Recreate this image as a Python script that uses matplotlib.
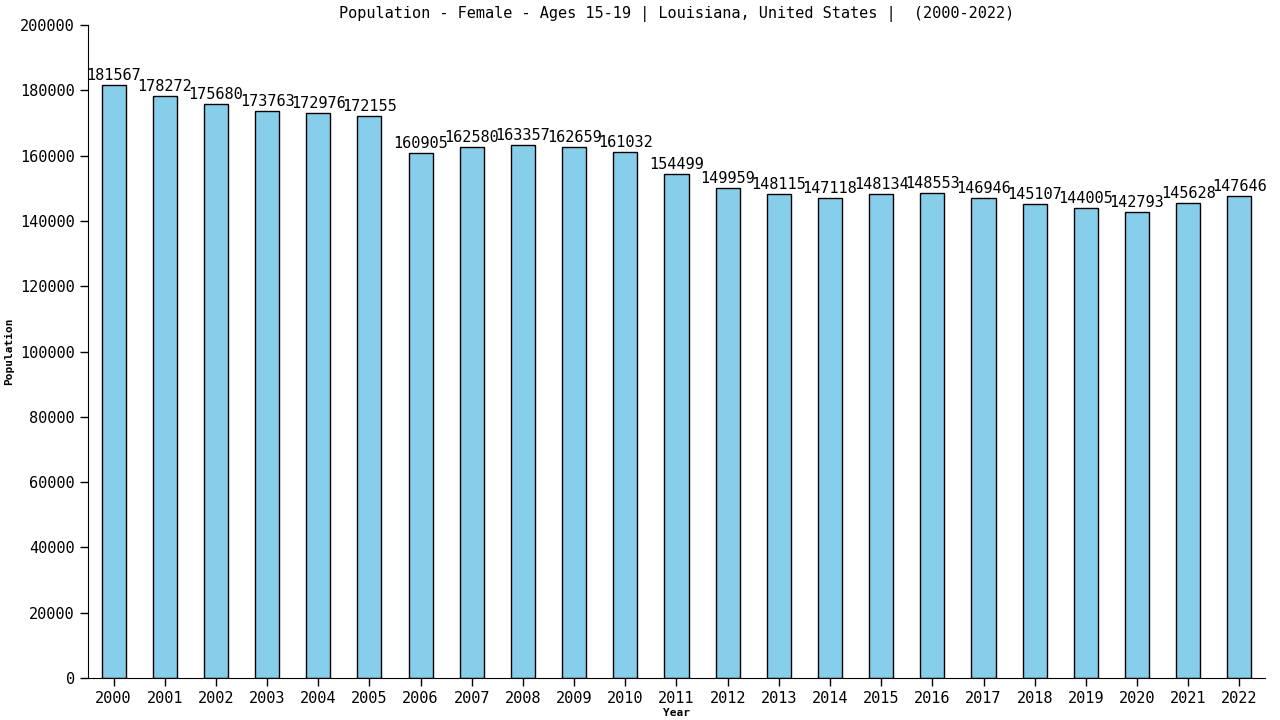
import matplotlib
matplotlib.use("Agg")
import matplotlib.pyplot as plt

years = [str(y) for y in range(2000, 2023)]
population = [181567, 178272, 175680, 173763, 172976, 172155, 160905, 162580,
              163357, 162659, 161032, 154499, 149959, 148115, 147118, 148134,
              148553, 146946, 145107, 144005, 142793, 145628, 147646]

plt.rcParams["font.family"] = "DejaVu Sans Mono"

fig = plt.figure(figsize=(12.8, 7.2), dpi=100)
ax = fig.add_axes([0.06875, 0.0583, 0.9195, 0.9069])

x = range(len(years))
ax.bar(x, population, width=0.47, color="#87ceeb", edgecolor="black", linewidth=1)

for xi, v in zip(x, population):
    ax.text(xi, v + 600, str(v), ha="center", va="bottom", fontsize=11)

ax.set_xlim(-0.5, 22.5)
ax.set_ylim(0, 200000)
ax.set_yticks(range(0, 200001, 20000))
ax.set_xticks(list(x))
ax.set_xticklabels(years)
ax.tick_params(labelsize=11, length=6, width=1)
for s in ("top", "right"):
    ax.spines[s].set_visible(False)

ax.set_title("Population - Female - Ages 15-19 | Louisiana, United States |  (2000-2022)",
             fontsize=11, pad=5)
ax.set_xlabel("Year", fontsize=8, fontweight="bold", labelpad=1)
ax.set_ylabel("Population", fontsize=8, fontweight="bold")

fig.savefig("out.png")
